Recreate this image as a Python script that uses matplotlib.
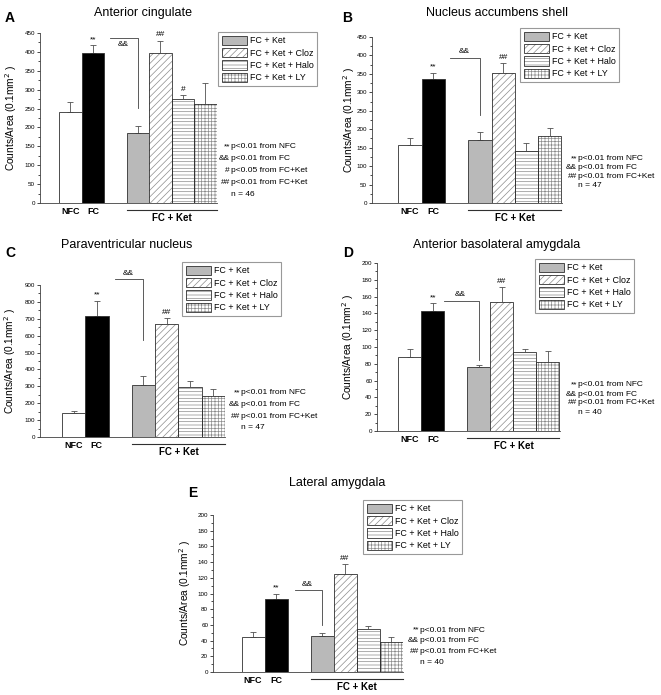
import matplotlib
matplotlib.use('Agg')
import matplotlib.pyplot as plt
from matplotlib.patches import Rectangle
from matplotlib.ticker import MultipleLocator, AutoMinorLocator
import matplotlib.transforms as mtrans

W, H = 661, 695
plt.rcParams['font.family'] = ['Liberation Sans', 'DejaVu Sans']
plt.rcParams['hatch.linewidth'] = 0.5

# data (counts / 0.1 mm^2, mean and upper error)
groups = ['NFC', 'FC', 'FC + Ket', 'FC + Ket + Cloz', 'FC + Ket + Halo', 'FC + Ket + LY']
x_pos = [0, 1, 3, 4, 5, 6]

acc_mean = [242, 396, 185, 398, 274, 263]
acc_err = [26, 22, 20, 32, 11, 54]
nac_mean = [157, 335, 170, 353, 142, 181]
nac_err = [18, 18, 22, 27, 20, 22]
pvn_mean = [140, 715, 308, 672, 295, 240]
pvn_err = [15, 93, 54, 33, 35, 45]
bla_mean = [88, 143, 76, 154, 94, 82]
bla_err = [10, 9, 3, 17, 4, 13]
la_mean = [45, 93, 46, 125, 55, 38]
la_err = [6, 7, 4, 12, 3, 7]

marks_acc = ['', '**', '', '##', '#', '']
marks_other = ['', '**', '', '##', '', '']

notes_acc = [('**', 'p<0.01 from NFC'), ('&&', 'p<0.01 from FC'),
             ('#', 'p<0.05 from FC+Ket'), ('##', 'p<0.01 from FC+Ket')]
notes_other = [('**', 'p<0.01 from NFC'), ('&&', 'p<0.01 from FC'),
               ('##', 'p<0.01 from FC+Ket')]

EDGE = '#303030'
KET_GRAY = '#b9b9b9'
HATCH_GRAY = '#8c8c8c'
styles = [
    dict(fc='white', hatch=None),
    dict(fc='black', hatch=None),
    dict(fc=KET_GRAY, hatch=None),
    dict(fc='white', hatch='/////'),
    dict(fc='white', hatch='-----'),
    dict(fc='white', hatch='+++++'),
]

fig = plt.figure(figsize=(W / 100, H / 100), dpi=100)


def fx(px):
    return px / W


def fy(py):
    return 1 - py / H


def draw_panel(p):
    x0 = -p['off']
    x1 = 6.52
    ax = fig.add_axes([fx(p['left']), fy(p['zero']),
                       (x1 - x0) * p['unit'] / W, (p['zero'] - p['top']) / H])
    ax.set_xlim(x0, x1)
    ax.set_ylim(0, p['ymax'])
    hpx = p['zero'] - p['top']

    for i, (x, m) in enumerate(zip(x_pos, p['mean'])):
        st = styles[i]
        if st['hatch']:
            ax.bar(x, m, width=1.0, color='white', edgecolor=HATCH_GRAY,
                   linewidth=0, hatch=st['hatch'], zorder=2)
            ax.bar(x, m, width=1.0, fill=False, edgecolor=EDGE, linewidth=0.6, zorder=3)
        else:
            ax.bar(x, m, width=1.0, color=st['fc'], edgecolor=EDGE, linewidth=0.6, zorder=2)
    ax.errorbar(x_pos, p['mean'], yerr=[[0] * 6, p['err']], fmt='none',
                ecolor='#505050', elinewidth=0.6, capsize=2, capthick=0.6, zorder=1)

    for x, m, e, s in zip(x_pos, p['mean'], p['err'], p['marks']):
        if s:
            ax.annotate(s, (x, m + e), xytext=(0, 1.5), textcoords='offset points',
                        ha='center', va='bottom', fontsize=6, annotation_clip=False)

    bx0, lev, drop = p['bracket']
    ax.plot([bx0, 3, 3], [lev, lev, drop], color='#404040', lw=0.6, clip_on=False)
    ax.text((bx0 + 3) / 2 - 0.05, p['amp_y'], '&&', ha='center',
            va=p['amp_va'], fontsize=6, clip_on=False)

    for side in ['top', 'right']:
        ax.spines[side].set_visible(False)
    for side in ['left', 'bottom']:
        ax.spines[side].set_linewidth(0.6)
        ax.spines[side].set_color('#404040')

    ax.yaxis.set_major_locator(MultipleLocator(p['ystep']))
    ax.yaxis.set_minor_locator(AutoMinorLocator(2))
    ax.tick_params(axis='y', which='major', length=2.5, width=0.5, labelsize=4.5, pad=1)
    ax.tick_params(axis='y', which='minor', length=1.3, width=0.5)
    ax.set_xticks([0, 1])
    ax.set_xticklabels(['NFC', 'FC'], fontsize=6.5, fontweight='bold')
    ax.tick_params(axis='x', length=0, pad=3)

    ax.set_ylabel('Counts/Area (0.1mm$^2$ )', fontsize=7.3)
    ax.yaxis.set_label_coords(-p['ylab'] / ((x1 - x0) * p['unit']), 0.5)

    tr = mtrans.blended_transform_factory(ax.transData, ax.transAxes)
    ax.plot([2.5, 6.5], [-7 / hpx, -7 / hpx], color='#303030', lw=0.8,
            transform=tr, clip_on=False)
    ax.text(4.5, -15 / hpx, 'FC + Ket', transform=tr, ha='center', va='center',
            fontsize=7, fontweight='bold')

    handles = []
    for i in range(2, 6):
        st = styles[i]
        if st['hatch']:
            handles.append((Rectangle((0, 0), 1, 1, fc='white', ec=HATCH_GRAY, lw=0,
                                      hatch=st['hatch']),
                            Rectangle((0, 0), 1, 1, fill=False, ec=EDGE, lw=0.6)))
        else:
            handles.append(Rectangle((0, 0), 1, 1, fc=st['fc'], ec=EDGE, lw=0.6))
    lg = ax.legend(handles, groups[2:], loc='upper left',
                   bbox_to_anchor=(fx(p['leg'][0]), fy(p['leg'][1])),
                   bbox_transform=fig.transFigure, fontsize=6.4, frameon=True,
                   fancybox=False, handlelength=2.9, handleheight=1.25,
                   handletextpad=0.3, labelspacing=0.3, borderpad=0.4,
                   borderaxespad=0)
    lg.get_frame().set_edgecolor('#808080')
    lg.get_frame().set_linewidth(0.8)

    nx, ny, dy = p['note']
    lines = p['notes'] + [('', 'n = %d' % p['n'])]
    for k, (pre, txt) in enumerate(lines):
        yy = fy(ny + k * dy)
        if pre:
            fig.text(fx(nx - 1), yy, pre, ha='right', va='center', fontsize=6)
        fig.text(fx(nx), yy, txt, ha='left', va='center', fontsize=6)

    fig.text(fx(p['title_xy'][0]), fy(p['title_xy'][1]), p['title'],
             ha='center', va='center', fontsize=9)
    fig.text(fx(p['letter_xy'][0]), fy(p['letter_xy'][1]), p['letter'],
             ha='center', va='center', fontsize=10, fontweight='bold')


panels = [
    dict(letter='A', title='Anterior cingulate', mean=acc_mean, err=acc_err,
         marks=marks_acc, notes=notes_acc, n=46,
         left=40, zero=203, top=33, unit=22.5, off=1.35, ymax=450, ystep=50,
         bracket=(1.76, 436, 251), amp_y=430, amp_va='top',
         leg=(218, 32), note=(231, 147, 11.8), ylab=21,
         title_xy=(143, 13), letter_xy=(10, 18)),
    dict(letter='B', title='Nucleus accumbens shell', mean=nac_mean, err=nac_err,
         marks=marks_other, notes=notes_other, n=47,
         left=372, zero=203, top=37, unit=23.3, off=1.63, ymax=450, ystep=50,
         bracket=(1.72, 393, 238), amp_y=400, amp_va='bottom',
         leg=(520, 28), note=(578, 159, 8.8), ylab=15,
         title_xy=(497, 13), letter_xy=(347, 18)),
    dict(letter='C', title='Paraventricular nucleus', mean=pvn_mean, err=pvn_err,
         marks=marks_other, notes=notes_other, n=47,
         left=40, zero=437, top=285, unit=23.3, off=1.44, ymax=900, ystep=100,
         bracket=(1.78, 935, 574), amp_y=950, amp_va='bottom',
         leg=(182, 262), note=(241, 393, 11.5), ylab=22,
         title_xy=(127, 245), letter_xy=(10, 253)),
    dict(letter='D', title='Anterior basolateral amygdala', mean=bla_mean, err=bla_err,
         marks=marks_other, notes=notes_other, n=40,
         left=377, zero=431, top=263, unit=23.0, off=1.43, ymax=200, ystep=20,
         bracket=(1.5, 155, 84), amp_y=158, amp_va='bottom',
         leg=(535, 259), note=(578, 385, 9.0), ylab=21,
         title_xy=(497, 245), letter_xy=(348, 253)),
    dict(letter='E', title='Lateral amygdala', mean=la_mean, err=la_err,
         marks=marks_other, notes=notes_other, n=40,
         left=213, zero=672, top=515, unit=23.0, off=1.74, ymax=200, ystep=20,
         bracket=(1.83, 104, 60), amp_y=107, amp_va='bottom',
         leg=(363, 500), note=(420, 630, 10.7), ylab=20,
         title_xy=(337, 483), letter_xy=(193, 493)),
]

for p in panels:
    draw_panel(p)

fig.savefig('out.png', dpi=100, facecolor='white')
